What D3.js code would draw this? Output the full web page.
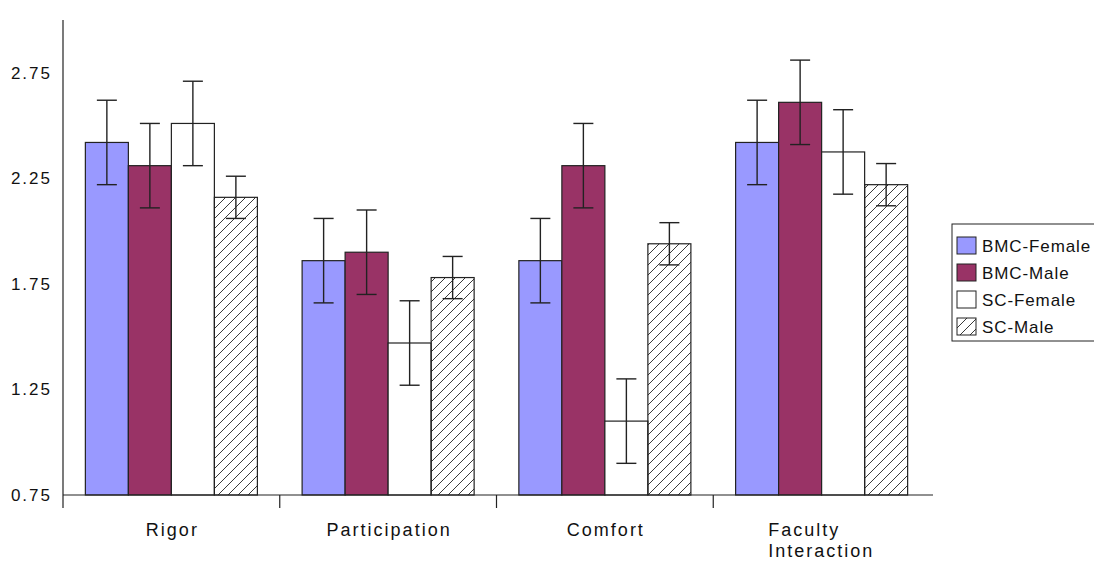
<!DOCTYPE html>
<html lang="en">
  <head>
    <title>Survey means by group</title>
    <script type="text/javascript" src="https://d3js.org/d3.v7.min.js"></script>
    <style>
      body { margin: 0; background: #fff; }
      text { font-family: "Liberation Sans", Arial, sans-serif; fill: #111; }
    </style>
  </head>

  <body>
    <div id="my_dataviz"></div>

    <script>
      // categories along the x axis
      const categories = ["Rigor", "Participation", "Comfort", "Faculty Interaction"];
      const groups = ["BMC-Female", "BMC-Male", "SC-Female", "SC-Male"];

      // means, one array per group
      const bmcFemale = [2.42, 1.86, 1.86, 2.42];
      const bmcMale   = [2.31, 1.90, 2.31, 2.61];
      const scFemale  = [2.51, 1.47, 1.10, 2.375];
      const scMale    = [2.16, 1.78, 1.94, 2.22];

      // half-width of each error bar
      const bmcFemaleErr = [0.20, 0.20, 0.20, 0.20];
      const bmcMaleErr   = [0.20, 0.20, 0.20, 0.20];
      const scFemaleErr  = [0.20, 0.20, 0.20, 0.20];
      const scMaleErr    = [0.10, 0.10, 0.10, 0.10];

      const yTicks = [0.75, 1.25, 1.75, 2.25, 2.75];

      const series = [bmcFemale, bmcMale, scFemale, scMale];
      const errors = [bmcFemaleErr, bmcMaleErr, scFemaleErr, scMaleErr];

      let margin = {top: 20, right: 164, bottom: 68, left: 63},
      width = 1094 - margin.left - margin.right,
      height = 563 - margin.top - margin.bottom;

      let svg = d3.select("#my_dataviz")
        .append("svg")
          .attr("width", 1094)
          .attr("height", 563);

      // hatch pattern for SC-Male
      let defs = svg.append("defs");
      defs.append("pattern")
          .attr("id", "hatch")
          .attr("patternUnits", "userSpaceOnUse")
          .attr("width", 10)
          .attr("height", 10)
        .append("path")
          .attr("d", "M-1,1 l2,-2 M0,10 l10,-10 M9,11 l2,-2")
          .attr("stroke", "#222")
          .attr("stroke-width", 0.9);

      const fills = ["#9999ff", "#993366", "#ffffff", "url(#hatch)"];

      let g = svg.append("g")
          .attr("transform", "translate(" + margin.left + "," + margin.top + ")");

      let x = d3.scaleBand()
        .domain(categories)
        .range([0, width]);

      let x1 = d3.scaleBand()
        .domain(groups)
        .range([0, x.bandwidth()])
        .paddingOuter(0.52)
        .paddingInner(0);

      let y = d3.scaleLinear()
        .domain([0.75, 3.0])
        .range([height, 0]);

      // y axis: line + labels only
      let yAxis = g.append("g")
        .call(d3.axisLeft(y).tickValues(yTicks).tickSize(0).tickPadding(11)
          .tickFormat(d3.format(".2f")));
      yAxis.select(".domain").remove();
      yAxis.selectAll("text")
        .style("font-size", "17px")
        .style("letter-spacing", "2px");

      g.append("line")
        .attr("x1", 0).attr("x2", 0)
        .attr("y1", 0).attr("y2", height + 13)
        .attr("stroke", "#222").attr("stroke-width", 1.2);

      // bars
      categories.forEach(function(c, ci) {
        groups.forEach(function(gr, gi) {
          let v = series[gi][ci];
          let bx = x(c) + x1(gr);
          g.append("rect")
            .attr("x", bx)
            .attr("y", y(v))
            .attr("width", x1.bandwidth())
            .attr("height", height - y(v))
            .attr("fill", fills[gi])
            .attr("stroke", "#222")
            .attr("stroke-width", 1.2);
        });
      });

      // x axis
      g.append("line")
        .attr("x1", 0).attr("x2", width + 3)
        .attr("y1", height).attr("y2", height)
        .attr("stroke", "#222").attr("stroke-width", 1.2);

      categories.slice(1).forEach(function(c) {
        g.append("line")
          .attr("x1", x(c)).attr("x2", x(c))
          .attr("y1", height).attr("y2", height + 13)
          .attr("stroke", "#222").attr("stroke-width", 1.2);
      });

      // error bars
      categories.forEach(function(c, ci) {
        groups.forEach(function(gr, gi) {
          let v = series[gi][ci], e = errors[gi][ci];
          let cx = x(c) + x1(gr) + x1.bandwidth() / 2;
          let eb = g.append("g").attr("stroke", "#222").attr("stroke-width", 1.4);
          eb.append("line")
            .attr("x1", cx).attr("x2", cx)
            .attr("y1", y(v + e)).attr("y2", y(v - e));
          [v + e, v - e].forEach(function(t) {
            eb.append("line")
              .attr("x1", cx - 10).attr("x2", cx + 10)
              .attr("y1", y(t)).attr("y2", y(t));
          });
        });
      });

      // category labels
      categories.forEach(function(c) {
        let words = c.split(" ");
        let t = g.append("text")
          .attr("y", height + 41)
          .style("font-size", "18px")
          .style("letter-spacing", "2px");
        if (words.length === 1) {
          t.attr("x", x(c) + x.bandwidth() / 2 + 1)
            .attr("text-anchor", "middle")
            .text(c);
        } else {
          words.forEach(function(w, wi) {
            t.append("tspan")
              .attr("x", x(c) + 55)
              .attr("dy", wi === 0 ? 0 : 21)
              .text(w);
          });
        }
      });

      // legend (box runs off the right edge like the original)
      let legend = svg.append("g")
        .attr("transform", "translate(952,224)");
      legend.append("rect")
        .attr("x", 0).attr("y", 0)
        .attr("width", 150).attr("height", 117)
        .attr("fill", "#fff")
        .attr("stroke", "#222").attr("stroke-width", 1);
      groups.forEach(function(gr, gi) {
        let row = legend.append("g")
          .attr("transform", "translate(5," + (13 + gi * 27) + ")");
        row.append("rect")
          .attr("width", 19).attr("height", 17)
          .attr("fill", fills[gi])
          .attr("stroke", "#222").attr("stroke-width", 1);
        row.append("text")
          .attr("x", 25).attr("y", 15)
          .style("font-size", "17px")
          .style("letter-spacing", "0.9px")
          .text(gr);
      });
    </script>

  </body>
</html>
